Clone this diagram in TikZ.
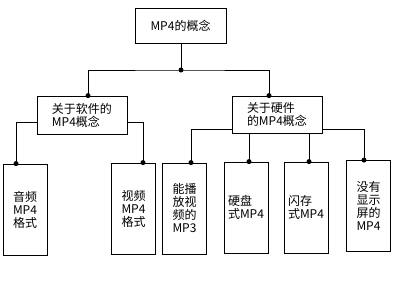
\documentclass[tikz,border=0pt]{standalone}
\usepackage{fontspec}
\setmainfont{Noto Sans CJK SC}
\usetikzlibrary{calc}

\begin{document}
\begin{tikzpicture}[x=1pt,y=-1pt,line width=.8pt,
  every node/.style={font=\fontsize{12}{13}\selectfont},
  box/.style={draw,fill=white,inner sep=0pt,align=left},
  leaf/.style={box,minimum width=44pt,minimum height=91pt},
  dot/.style={circle,fill,inner sep=0pt,minimum size=5pt}]
  \useasboundingbox (0,0) rectangle (400,300);
  \node[box,minimum width=91pt,minimum height=35pt] (top) at (180.5,25.5) {MP4的概念};
  \node[box,minimum width=90pt,minimum height=38pt] (soft) at (82,115) {关于软件的\\MP4概念};
  \node[box,minimum width=90pt,minimum height=37pt] (hard) at (277,114.5) {关于硬件\\的MP4概念};
  \node[leaf] (leafA) at (25,209.5) {音频\\MP4\\格式};
  \node[leaf] (leafB) at (133.5,208.5) {视频\\MP4\\格式};
  \node[leaf] (leafC) at (184.5,208.5) {能播\\放视\\频的\\MP3};
  \node[leaf] (leafD) at (246,207.5) {硬盘\\式MP4};
  \node[leaf] (leafE) at (306,207.5) {闪存\\式MP4};
  \node[leaf] (leafF) at (368.5,206) {没有\\显示\\屏的\\MP4};
  % joints
  \coordinate (j0) at (181,70);
  \coordinate (dS) at ([xshift=6pt]soft.north);
  \coordinate (dH) at ([xshift=-8pt]hard.north);
  \coordinate (dA) at ([xshift=-9pt]leafA.north);
  \coordinate (dB) at ([xshift=9.5pt]leafB.north);
  \coordinate (dC) at ([xshift=6.5pt]leafC.north);
  \coordinate (dD) at ([xshift=3pt]leafD.north);
  \coordinate (dE) at ([xshift=3pt]leafE.north);
  \coordinate (dF) at ([xshift=-4.5pt]leafF.north);
  \coordinate (sW) at ([yshift=-7pt]soft.west);
  \coordinate (sE) at ([yshift=-7pt]soft.east);
  \coordinate (hW) at (hard.west |- 0,129);
  \coordinate (hE) at (hard.east |- 0,129);
  % connectors
  \draw (top.south -| j0) -- (j0);
  \draw (dS) |- (j0) -| (dH);
  \draw (sW) -| (dA);
  \draw (sE) -| (dB);
  \draw (hW) -| (dC);
  \draw (hE) -| (dF);
  \draw (hard.south -| dD) -- (dD);
  \draw (hard.south -| dE) -- (dE);
  \foreach \d in {j0,dS,dH,dA,dB,dC,dD,dE,dF}
    \node[dot] at (\d) {};
\end{tikzpicture}
\end{document}
